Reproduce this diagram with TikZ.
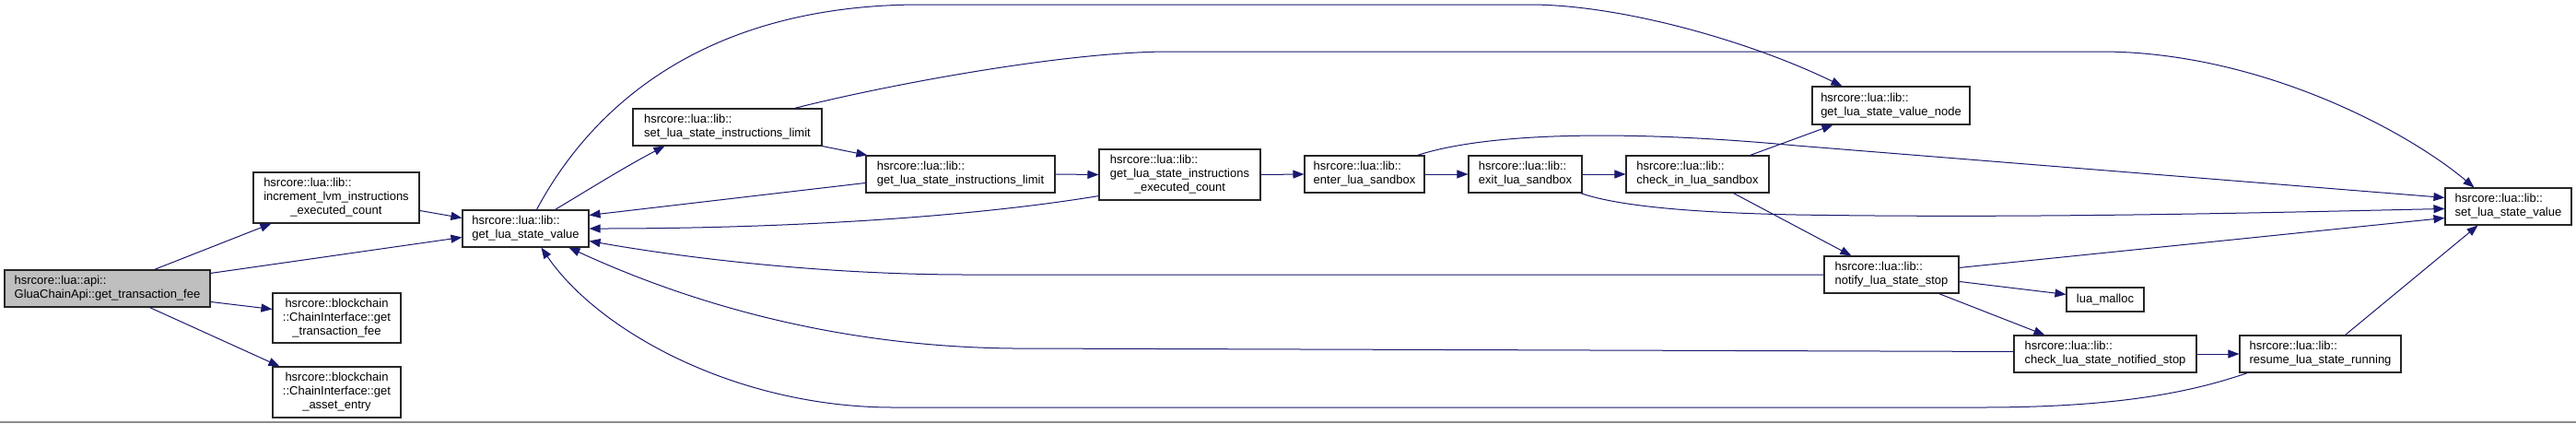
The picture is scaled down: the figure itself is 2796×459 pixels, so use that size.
\documentclass[tikz,border=0pt]{standalone}
\usepackage{fontspec}
\setmainfont{Liberation Sans}
\usetikzlibrary{arrows.meta,calc}
\definecolor{edgeblue}{HTML}{191970}
\definecolor{nodegray}{HTML}{BFBFBF}
\newcommand\lefttab[1]{\begin{tabular}{@{}l@{}}#1\end{tabular}}
\newcommand\centtab[1]{\begin{tabular}{@{}c@{}}#1\end{tabular}}
\begin{document}
\begin{tikzpicture}[x=1pt,y=-1pt,
  fn/.style={draw=black!85, line width=1.1pt, fill=white, rectangle, inner sep=0pt,
    font=\fontsize{13}{15}\selectfont},
  call/.style={draw=edgeblue, line width=1pt, -{Triangle[length=12pt,width=9pt]}}]
\fill[white] (0,0) rectangle (2796,459);
\useasboundingbox (0,0) rectangle (2796,459);
\draw[black!45, line width=1.2pt] (0,458) -- (2796,458);

% nodes
\node[fn, fill=nodegray, minimum width=223pt, minimum height=40pt] (glua) at (116.5,313)
  {\lefttab{hsrcore::lua::api::\\GluaChainApi::get\_transaction\_fee}};
\node[fn, minimum width=180pt, minimum height=55pt] (inc) at (365,214.5)
  {\lefttab{hsrcore::lua::lib::\\increment\_lvm\_instructions\\\multicolumn{1}{@{}c@{}}{\_executed\_count}}};
\node[fn, minimum width=139pt, minimum height=54pt] (cigtf) at (365.5,345)
  {\centtab{hsrcore::blockchain\\::ChainInterface::get\\\_transaction\_fee}};
\node[fn, minimum width=139pt, minimum height=55pt] (cigae) at (365.5,425.5)
  {\centtab{hsrcore::blockchain\\::ChainInterface::get\\\_asset\_entry}};
\node[fn, minimum width=137pt, minimum height=40pt] (glsv) at (570.5,248)
  {\lefttab{hsrcore::lua::lib::\\get\_lua\_state\_value}};
\node[fn, minimum width=205pt, minimum height=40pt] (slsil) at (789.5,138)
  {\lefttab{hsrcore::lua::lib::\\set\_lua\_state\_instructions\_limit}};
\node[fn, minimum width=205pt, minimum height=40pt] (glsil) at (1042.5,189)
  {\lefttab{hsrcore::lua::lib::\\get\_lua\_state\_instructions\_limit}};
\node[fn, minimum width=175pt, minimum height=55pt] (glsiec) at (1280.5,189.5)
  {\lefttab{hsrcore::lua::lib::\\get\_lua\_state\_instructions\\\multicolumn{1}{@{}c@{}}{\_executed\_count}}};
\node[fn, minimum width=130pt, minimum height=40pt] (enter) at (1481,189)
  {\lefttab{hsrcore::lua::lib::\\enter\_lua\_sandbox}};
\node[fn, minimum width=123pt, minimum height=40pt] (exit) at (1655.5,189)
  {\lefttab{hsrcore::lua::lib::\\exit\_lua\_sandbox}};
\node[fn, minimum width=155pt, minimum height=40pt] (checkin) at (1842.5,189)
  {\lefttab{hsrcore::lua::lib::\\check\_in\_lua\_sandbox}};
\node[fn, minimum width=171pt, minimum height=41pt] (glsvn) at (2052.5,114.5)
  {\lefttab{hsrcore::lua::lib::\\get\_lua\_state\_value\_node}};
\node[fn, minimum width=137pt, minimum height=40pt] (slsv) at (2722.5,224)
  {\lefttab{hsrcore::lua::lib::\\set\_lua\_state\_value}};
\node[fn, minimum width=146pt, minimum height=40pt] (notify) at (2053,298)
  {\lefttab{hsrcore::lua::lib::\\notify\_lua\_state\_stop}};
\node[fn, minimum width=84pt, minimum height=26pt] (malloc) at (2285,325)
  {lua\_malloc};
\node[fn, minimum width=198pt, minimum height=40pt] (clsns) at (2285,384)
  {\lefttab{hsrcore::lua::lib::\\check\_lua\_state\_notified\_stop}};
\node[fn, minimum width=175pt, minimum height=40pt] (resume) at (2518.5,384)
  {\lefttab{hsrcore::lua::lib::\\resume\_lua\_state\_running}};

% connectors
\draw[call] ($(glua.north west)+(163,0)$) -- ($(inc.south west)+(20,0)$);
\draw[call] ($(glua.north east)+(0,4)$) -- ($(glsv.north west)+(0,30)$);
\draw[call] ($(glua.north east)+(0,35)$) -- ($(cigtf.north west)+(0,18)$);
\draw[call] ($(glua.south west)+(158,0)$) -- ($(cigae.north west)+(8,0)$);
\draw[call] ($(inc.north east)+(0,42)$) -- ($(glsv.north west)+(0,9)$);

\draw[call] ($(glsv.north west)+(81,0)$) .. controls (640,120) and (760,5) .. (1000,5)
  -- (1660,5) .. controls (1760,5) and (1900,45) .. ($(glsvn.north west)+(33,0)$);
\draw[call] ($(glsv.north west)+(101,0)$) .. controls (640,205) and (680,180) .. ($(slsil.south west)+(35,0)$);
\draw[call] (slsil.south east) -- ($(glsil.north west)+(2,0)$);
\draw[call] ($(slsil.north west)+(176,0)$) .. controls (950,95) and (1150,56) .. (1270,56)
  -- (2280,56) .. controls (2450,56) and (2610,140) .. ($(slsv.north west)+(32,0)$);

\draw[call] ($(glsil.north west)+(0,30)$) -- ($(glsv.north east)+(0,6)$);
\draw[call] (glsil.east) -- (glsiec.west);
\draw[call] ($(glsiec.south west)+(0,-5)$) .. controls (1050,236) and (850,248) .. (glsv.east);
\draw[call] (glsiec.east) -- (enter.west);
\draw[call] (enter.east) -- (exit.west);
\draw[call] (exit.east) -- (checkin.west);
\draw[call] ($(checkin.north west)+(135,0)$) -- ($(glsvn.south west)+(23,0)$);

\draw[call] ($(enter.north west)+(123,0)$) .. controls (1620,142) and (1780,142) .. (1950,158)
  -- ($(slsv.north west)+(0,11)$);
\draw[call] ($(exit.south east)+(-2,0)$) .. controls (1760,225) and (1850,231) .. (1950,233)
  .. controls (2200,237) and (2450,231) .. ($(slsv.north west)+(0,23)$);
\draw[call] ($(checkin.south west)+(117,0)$) -- ($(notify.north west)+(30,0)$);

\draw[call] ($(notify.north east)+(0,13)$) -- ($(slsv.north west)+(0,33)$);
\draw[call] ($(notify.north east)+(0,28)$) -- ($(malloc.north west)+(0,8)$);
\draw[call] ($(notify.south west)+(125,0)$) -- ($(clsns.north west)+(34,0)$);
\draw[call] (notify.west) -- (1050,298) .. controls (900,298) and (750,281) .. ($(glsv.north east)+(0,34)$);

\draw[call] ($(clsns.north west)+(0,18)$) -- (1100,378) .. controls (900,376) and (740,325) .. ($(glsv.south west)+(116,0)$);
\draw[call] ($(resume.south west)+(9,0)$) .. controls (2380,425) and (2300,442) .. (2150,442)
  -- (970,442) .. controls (800,442) and (650,360) .. ($(glsv.south west)+(86,0)$);
\draw[call] (clsns.east) -- (resume.west);
\draw[call] ($(resume.north west)+(115,0)$) -- ($(slsv.south west)+(36,0)$);
\end{tikzpicture}
\end{document}
